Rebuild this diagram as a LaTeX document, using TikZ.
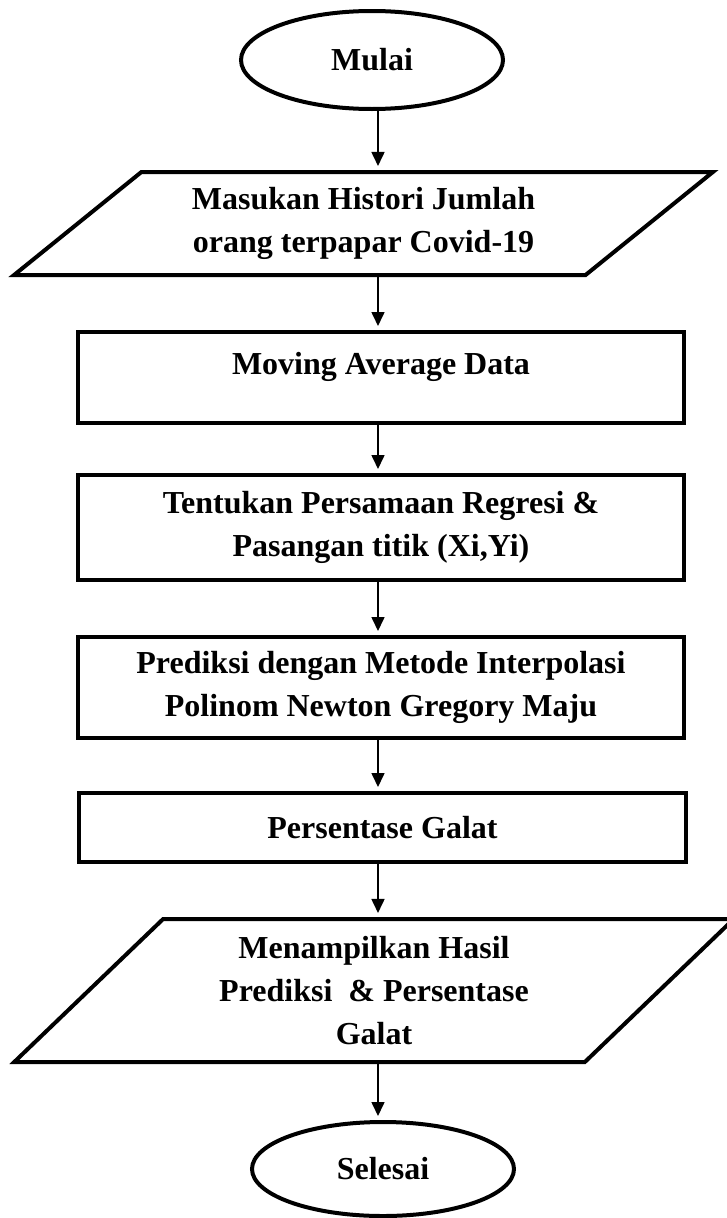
\documentclass[tikz,border=0pt]{standalone}
\usepackage{fontspec}
\setmainfont{Liberation Serif}
\usetikzlibrary{shapes.geometric,arrows.meta}

\tikzset{
    term node/.style={ellipse,draw,line width=4pt,minimum width=262pt,inner sep=0pt},
    io node/.style={trapezium,draw,line width=4pt,trapezium stretches=true,align=center,inner sep=0pt},
    proc node/.style={rectangle,draw,line width=4pt,minimum width=606pt,align=center,inner sep=0pt},
    flow/.style={line width=1.6pt,-{Triangle[length=14pt,width=13pt]},shorten >=4pt}
    }

\begin{document}
\begin{tikzpicture}[x=1pt,y=-1pt,font=\fontsize{32}{43}\selectfont\bfseries]
                \useasboundingbox (0,0) rectangle (727,1218);
                \coordinate (spine) at (378,0);
                \node(mulai)[term node, minimum height=98pt] at (372,60) {Mulai};
                \node(masukan)[io node, trapezium left angle=36.3, trapezium right angle=143.7,
                    minimum width=701pt, minimum height=103pt] at (363.5,223.5)
                    {Masukan Histori Jumlah\\orang terpapar Covid-19};
                \node(avg)[proc node, minimum height=91pt, text depth=29pt] at (381,377.5)
                    {Moving Average Data};
                \node(regresi)[proc node, minimum height=105pt] at (381,527.5)
                    {Tentukan Persamaan Regresi \&\\Pasangan titik (Xi,Yi)};
                \node(prediksi)[proc node, minimum height=101pt] at (381,687.5)
                    {Prediksi dengan Metode Interpolasi\\Polinom Newton Gregory Maju};
                \node(galat)[proc node, minimum width=607pt, minimum height=69pt] at (382.5,827.5)
                    {Persentase Galat};
                \node(hasil)[io node, trapezium left angle=44.8, trapezium right angle=135.2,
                    minimum width=720pt, minimum height=143pt] at (374,990.5)
                    {Menampilkan Hasil\\Prediksi \ \& Persentase\\Galat};
                \node(selesai)[term node, minimum height=94pt] at (383,1169) {Selesai};
                % alur
                \draw[flow] (mulai.south -| spine) -- (masukan.north -| spine);
                \draw[flow] (masukan.south -| spine) -- (avg.north -| spine);
                \draw[flow] (avg.south -| spine) -- (regresi.north -| spine);
                \draw[flow] (regresi.south -| spine) -- (prediksi.north -| spine);
                \draw[flow] (prediksi.south -| spine) -- (galat.north -| spine);
                \draw[flow] (galat.south -| spine) -- (hasil.north -| spine);
                \draw[flow] (hasil.south -| spine) -- (selesai.north -| spine);
            \end{tikzpicture}
\end{document}
